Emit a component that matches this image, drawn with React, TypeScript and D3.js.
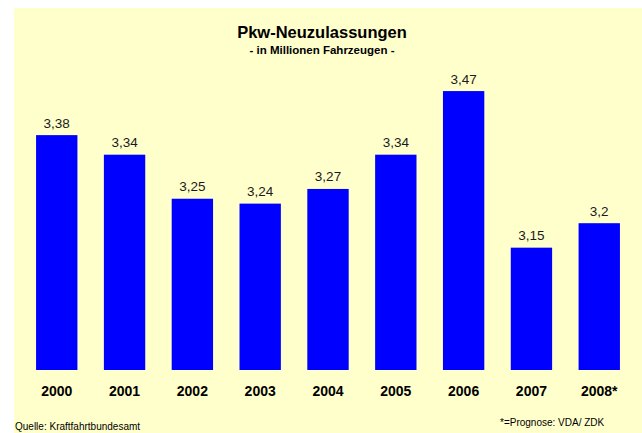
import React from "react";
import * as d3 from "d3";

const years = ["2000", "2001", "2002", "2003", "2004", "2005", "2006", "2007", "2008*"];
const registrations = [3.38, 3.34, 3.25, 3.24, 3.27, 3.34, 3.47, 3.15, 3.2];
const valueLabels = ["3,38", "3,34", "3,25", "3,24", "3,27", "3,34", "3,47", "3,15", "3,2"];

const width = 642;
const height = 433;
const font = "Arial, 'Liberation Sans', Helvetica, sans-serif";

export default function App() {
  const x = d3.scaleBand().domain(years).range([22.5, 633.5]).paddingInner(0.39).paddingOuter(0.2);
  const y = d3.scaleLinear().domain([2.9, 3.5]).range([370, 76.4]);

  return (
    <div style={{ position: "fixed", left: 0, top: 0 }}>
      <svg width={width} height={height} style={{ display: "block" }}>
        <rect x={14} y={8} width={width - 14} height={height - 8} fill="#ffffcc" />

        <text x={322} y={38} textAnchor="middle" fontFamily={font} fontWeight="bold" fontSize={16.5} fill="#000">
          Pkw-Neuzulassungen
        </text>
        <text x={322} y={54} textAnchor="middle" fontFamily={font} fontWeight="bold" fontSize={11.5} fill="#000">
          - in Millionen Fahrzeugen -
        </text>

        {years.map((yr, i) => (
          <g key={yr}>
            <rect
              x={x(yr)}
              y={y(registrations[i])}
              width={x.bandwidth()}
              height={y(2.9) - y(registrations[i])}
              fill="#0000ff"
            />
            <text
              x={x(yr)! + x.bandwidth() / 2}
              y={y(registrations[i]) - 7.5}
              textAnchor="middle"
              fontFamily={font}
              fontSize={13.5}
              fill="#1a1a1a"
            >
              {valueLabels[i]}
            </text>
            <text
              x={x(yr)! + x.bandwidth() / 2}
              y={396}
              textAnchor="middle"
              fontFamily={font}
              fontWeight="bold"
              fontSize={14}
              fill="#000"
            >
              {yr}
            </text>
          </g>
        ))}

        <text x={15} y={430} fontFamily={font} fontSize={10} fill="#000">
          Quelle: Kraftfahrtbundesamt
        </text>
        <text x={500} y={426} fontFamily={font} fontSize={10} fill="#000">
          *=Prognose: VDA/ ZDK
        </text>
      </svg>
    </div>
  );
}
